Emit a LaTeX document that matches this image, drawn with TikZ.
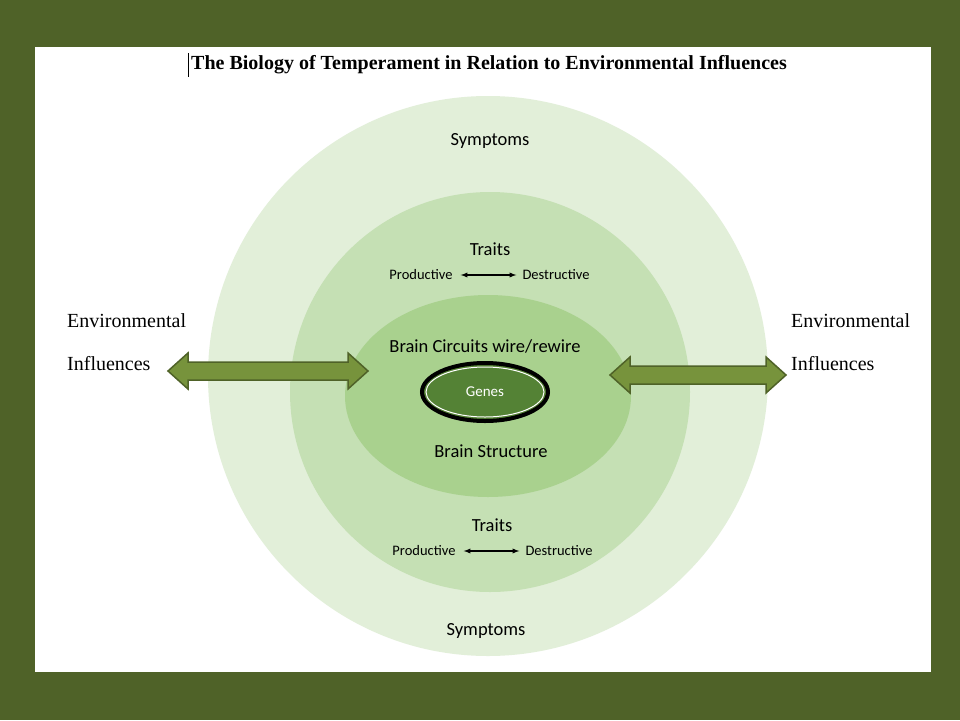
\documentclass[tikz,border=0pt]{standalone}
\usepackage{fontspec}
\usetikzlibrary{shapes.geometric}
\setmainfont{Liberation Serif}
\newfontfamily\sans{Carlito}
\begin{document}
\begin{tikzpicture}[x=1pt,y=-1pt,
  lbl/.style={font=\sans\fontsize{18.5}{21}\selectfont,inner sep=0},
  sml/.style={font=\sans\fontsize{14.5}{16}\selectfont,inner sep=0},
  env/.style={font=\fontsize{20}{22}\selectfont,anchor=west,inner sep=0},
  blk/.style={fill=arrowf,draw=arrowd,line width=1.5pt}]
\definecolor{bg}{HTML}{4F6228}
\definecolor{c1}{HTML}{E2EFD9}
\definecolor{c2}{HTML}{C5E0B4}
\definecolor{c3}{HTML}{A9D18E}
\definecolor{gn}{HTML}{548235}
\definecolor{arrowf}{HTML}{77933C}
\definecolor{arrowd}{HTML}{4F6228}
\fill[bg] (0,0) rectangle (960,720);
\useasboundingbox (0,0) rectangle (960,720);
\fill[white] (35,47) rectangle (931,672);
\node[font=\bfseries\fontsize{20}{22}\selectfont,inner sep=0] (title) at (489,65) {The Biology of Temperament in Relation to Environmental Influences};
\draw (188,53) -- (188,77);
\fill[c1] (488,376) circle (280);
\fill[c2] (490,392) circle (200);
\fill[c3] (488,396) ellipse (143 and 101);
\node[ellipse,draw=black,line width=4pt,fill=gn,minimum width=126,minimum height=58,font=\sans\fontsize{15}{17}\selectfont,text=white] (genes) at (485,392) {Genes};
\draw[white,line width=1pt] (485,392) ellipse (59 and 25);
\node[lbl] (s1) at (490,141) {Symptoms};
\node[lbl] (s2) at (486,631) {Symptoms};
\node[lbl] (t1) at (490,249) {Traits};
\node[lbl] (t2) at (492,525) {Traits};
\node[sml] (p1) at (421,275) {Productive};
\node[sml] (d1) at (556,275) {Destructive};
\node[sml] (p2) at (424,551) {Productive};
\node[sml] (d2) at (559,551) {Destructive};
\draw[<->,>=latex,line width=1.3pt] ([xshift=8]p1.east) -- ([xshift=-6]d1.west);
\draw[<->,>=latex,line width=1.3pt] ([xshift=8]p2.east) -- ([xshift=-6]d2.west);
\node[lbl] (bc) at (485,346) {Brain Circuits wire/rewire};
\node[lbl] (bs) at (491,451) {Brain Structure};
\node[env] (e1) at (67,321) {Environmental};
\node[env] (e2) at (67,364) {Influences};
\node[env] (e3) at (791,321) {Environmental};
\node[env] (e4) at (791,364) {Influences};
\draw[blk] (168,371) -- (188,353) -- (188,362) -- (348,362) -- (348,353) -- (368,371) -- (348,389) -- (348,380) -- (188,380) -- (188,389) -- cycle;
\draw[blk] (610,375) -- (630,357) -- (630,366) -- (766,366) -- (766,357) -- (786,375) -- (766,393) -- (766,384) -- (630,384) -- (630,393) -- cycle;
\end{tikzpicture}
\end{document}
